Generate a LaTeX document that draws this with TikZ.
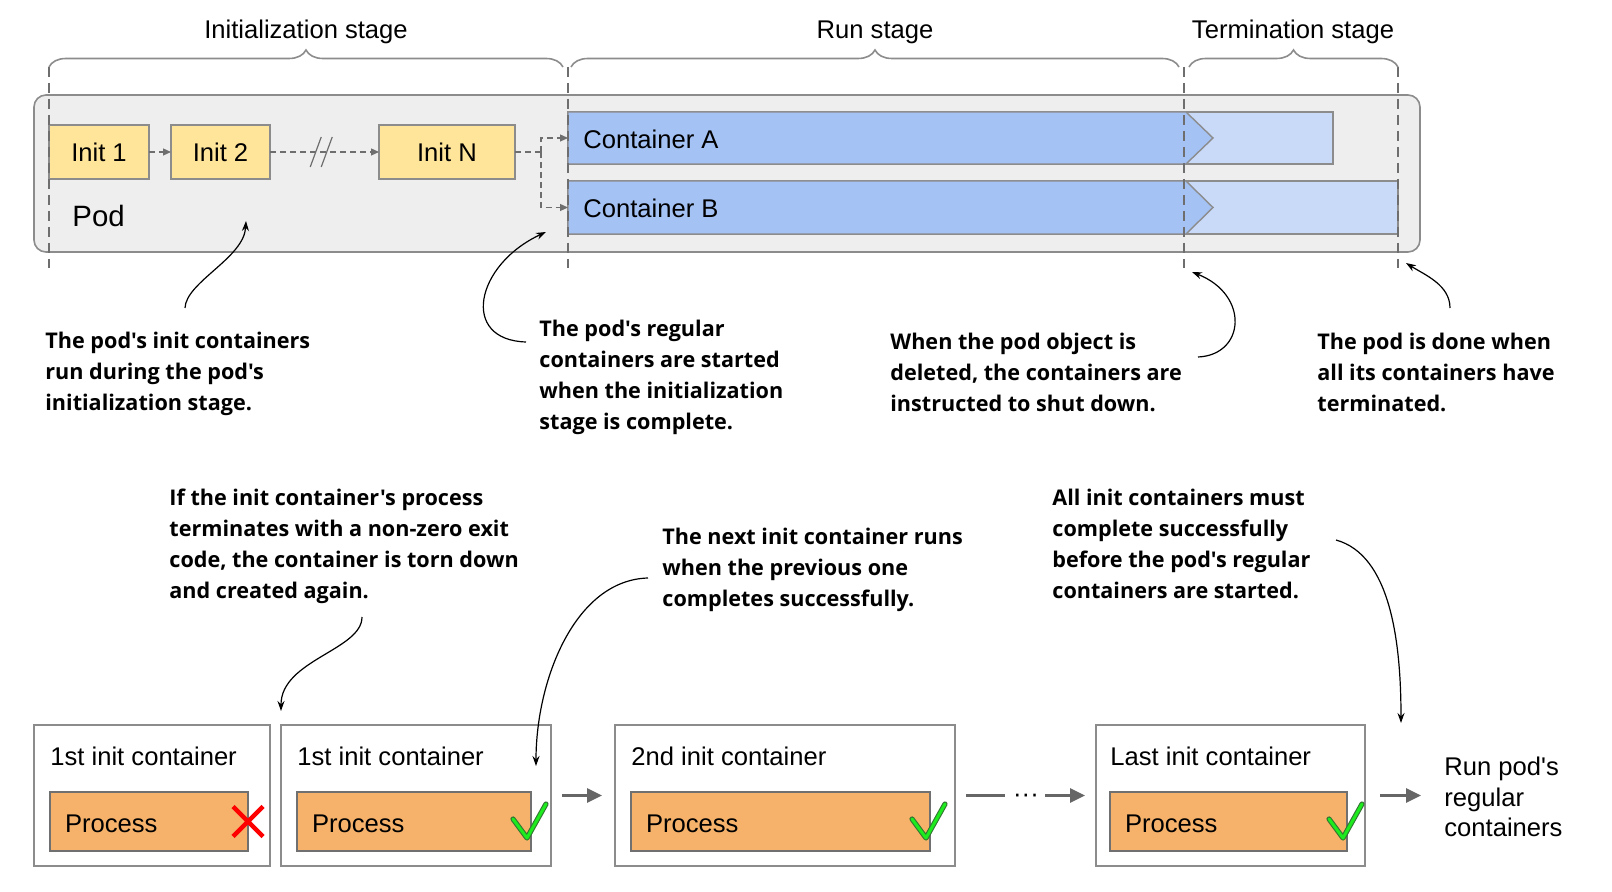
\documentclass[tikz,border=0pt]{standalone}
\usepackage{fontspec}
\setmainfont{Liberation Sans}[Ligatures=TeXOff]
\newfontfamily\notefont{Open Sans}[Ligatures=TeXOff]
\usepackage{tikz}
\usetikzlibrary{positioning,arrows.meta,calc,decorations.pathreplacing}
\definecolor{kLine}{RGB}{140,140,140}
\definecolor{kDash}{RGB}{110,110,110}
\definecolor{kPod}{RGB}{238,238,238}
\definecolor{kInit}{RGB}{255,229,153}
\definecolor{kRun}{RGB}{164,194,244}
\definecolor{kStop}{RGB}{201,218,248}
\definecolor{kProc}{RGB}{246,178,107}
\definecolor{kFlow}{RGB}{102,102,102}
\definecolor{kOk}{RGB}{30,235,30}
\definecolor{kOkLine}{RGB}{50,120,50}
\definecolor{kBad}{RGB}{255,0,0}
\tikzset{
  lbl/.style={font=\fontsize{12.8}{15.4}\selectfont, inner sep=0pt},
  note/.style={font=\notefont\bfseries\fontsize{10.8}{15.4}\selectfont,
               align=left, inner sep=0pt, anchor=north west},
  podbox/.style={rectangle, rounded corners=6pt, draw=kLine, fill=kPod,
                 line width=0.8pt, outer sep=0pt},
  initbox/.style={rectangle, draw=kLine, fill=kInit, line width=0.7pt,
                  minimum height=27pt, inner sep=0pt, outer sep=0pt,
                  font=\fontsize{12.8}{15.4}\selectfont},
  stopbar/.style={rectangle, draw=kLine, fill=kStop, line width=0.7pt,
                  outer sep=0pt},
  runpart/.style={fill=kRun, draw=kLine, line width=0.7pt},
  ctrbox/.style={rectangle, draw=kLine, fill=white, line width=0.8pt,
                 minimum height=70.5pt, outer sep=0pt},
  procbox/.style={rectangle, draw=kLine!80!black, fill=kProc, line width=0.7pt,
                  minimum height=29.5pt, inner xsep=7.5pt, inner ysep=0pt,
                  text height=11.2pt, text depth=0pt,
                  align=left, outer sep=0pt, font=\fontsize{12.8}{15.4}\selectfont},
  hop/.style={-{Triangle[length=4pt,width=3.5pt]}, draw=kDash, line width=0.6pt,
              dash pattern=on 3pt off 2pt},
  hopcut/.style={draw=kDash, line width=0.6pt},
  flow/.style={-{Triangle[length=7.5pt,width=7pt]}, draw=kFlow, line width=1.5pt},
  noteline/.style={-{Stealth[length=5pt,width=3.5pt]}, draw=black, line width=0.6pt},
  stage/.style={decorate, decoration={brace, amplitude=8.5pt}, draw=kLine,
                line width=0.8pt},
  cut/.style={draw=kDash, line width=0.7pt, dash pattern=on 5pt off 3pt},
}
\tikzset{
  okmark/.pic={
    \draw[kOkLine, line width=2.6pt, line cap=round, line join=round]
      (-9pt,1.25pt) -- (-2pt,-8.25pt) -- (7.5pt,8.75pt);
    \draw[kOk, line width=1.5pt, line cap=round, line join=round]
      (-9pt,1.25pt) -- (-2pt,-8.25pt) -- (7.5pt,8.75pt);
  },
  badmark/.pic={
    \draw[kBad, line width=2.2pt] (-7.5pt,7.5pt) -- (7.5pt,-7.5pt)
                                  (-7.5pt,-7.5pt) -- (7.5pt,7.5pt);
  },
}

\begin{document}
\begin{tikzpicture}[x=0.5pt,y=-0.5pt]
  \useasboundingbox (0,0) rectangle (1612,892);

  % --- pod and its init containers ---
  \node[podbox, minimum width=693pt, minimum height=78.5pt] (pod) at (727,173.5) {};
  \node[lbl, font=\fontsize{14.7}{17}\selectfont, anchor=west] (podlbl) at (72,216) {Pod};

  \node[initbox, minimum width=50pt] (init1) at (99,152) {Init 1};
  \node[initbox, minimum width=49.5pt] (init2) at (220.5,152) {Init 2};
  \node[initbox, minimum width=68pt] (initN) at (447,152) {Init N};

  % --- regular containers ---
  \node[stopbar, minimum width=382.5pt, minimum height=26pt] (ctrA) at (950.5,138) {};
  \node[stopbar, minimum width=415pt, minimum height=26.5pt] (ctrB) at (983,207.5) {};
  \filldraw[runpart] (ctrA.north west) -- ++(618,0) -- ++(27,26) -- ++(-27,26)
    -- (ctrA.south west) -- cycle;
  \filldraw[runpart] (ctrB.north west) -- ++(618,0) -- ++(27,26.5) -- ++(-27,26.5)
    -- (ctrB.south west) -- cycle;
  \node[lbl, anchor=west] (ctrAtxt) at ([xshift=7.5pt,yshift=-0.5pt]ctrA.west) {Container A};
  \node[lbl, anchor=west] (ctrBtxt) at ([xshift=7.5pt,yshift=-0.5pt]ctrB.west) {Container B};

  % --- init chain ---
  \draw[hop] (init1) -- (init2);
  \draw[hop] (init2) -- node[inner sep=0pt, pos=0.47] (gap) {} (initN);
  \draw[hopcut] ([shift={(-5.5pt,-7.5pt)}]gap.center) -- ++(5.5pt,15pt)
                ([shift={(0pt,-7.5pt)}]gap.center) -- ++(5.5pt,15pt);
  \coordinate (fork) at ([xshift=13pt]initN.east);
  \draw[hop, -] (initN.east) -- (fork);
  \draw[hop] (fork) |- (ctrA.west);
  \draw[hop] (fork) |- (ctrB.west);

  % --- stage boundaries ---
  \foreach \cx in {49,568,1184,1398}
    \draw[cut] (\cx,67) -- (\cx,268);
  \draw[stage] (49,67) -- (563,67);
  \draw[stage] (571,67) -- (1179,67);
  \draw[stage] (1189,67) -- (1398,67);
  \node[lbl] (initstage) at (306,32) {Initialization stage};
  \node[lbl] (runstage) at (875,32) {Run stage};
  \node[lbl] (endstage) at (1293,32) {Termination stage};

  % --- notes on the pod ---
  \node[note] (note1) at (45,332) {The pod's init containers\\run during the pod's\\initialization stage.};
  \node[note] (note2) at (539,320) {The pod's regular\\containers are started\\when the initialization\\stage is complete.};
  \node[note] (note3) at (890,333) {When the pod object is\\deleted, the containers are\\instructed to shut down.};
  \node[note] (note4) at (1317,333) {The pod is done when\\all its containers have\\terminated.};

  \coordinate (t1) at (246,221);
  \coordinate (t2) at (546,232);
  \coordinate (t3) at (1192,272);
  \coordinate (t4) at (1406,263);
  \draw[noteline] ([shift={(70pt,12pt)}]note1.north west) .. controls (186,282) and (244,258) .. (t1);
  \draw[noteline] ([shift={(-6.5pt,-11pt)}]note2.north west) .. controls (460,340) and (475,265) .. (t2);
  \draw[noteline] ([shift={(154pt,-12pt)}]note3.north west) .. controls (1245,355) and (1250,295) .. (t3);
  \draw[noteline] ([shift={(66.5pt,12.5pt)}]note4.north west) .. controls (1450,285) and (1425,275) .. (t4);

  % --- init container sequence ---
  \node[ctrbox, minimum width=118pt] (box1) at (152,795.5) {};
  \node[ctrbox, minimum width=135pt] (box2) at (416,795.5) {};
  \node[ctrbox, minimum width=170pt] (box3) at (785,795.5) {};
  \node[ctrbox, minimum width=134.5pt] (box4) at (1230.5,795.5) {};

  \node[lbl, anchor=west] (ttl1) at ([xshift=8pt,yshift=-15.5pt]box1.north west) {1st init container};
  \node[lbl, anchor=west] (ttl2) at ([xshift=8pt,yshift=-15.5pt]box2.north west) {1st init container};
  \node[lbl, anchor=west] (ttl3) at ([xshift=8pt,yshift=-15.5pt]box3.north west) {2nd init container};
  \node[lbl, anchor=west] (ttl4) at ([xshift=7pt,yshift=-15.5pt]box4.north west) {Last init container};

  \node[procbox, text width=84pt] (proc1) at (149,821.5) {Process};
  \node[procbox, text width=102pt] (proc2) at (414,821.5) {Process};
  \node[procbox, text width=134.5pt] (proc3) at (780.5,821.5) {Process};
  \node[procbox, text width=103.5pt] (proc4) at (1228.5,821.5) {Process};

  \pic at (proc1.east) {badmark};
  \pic at (proc2.east) {okmark};
  \pic at (proc3.east) {okmark};
  \pic at (proc4.east) {okmark};

  \node[lbl, inner xsep=3pt] (dots) at (1026,798) {···};
  \node[lbl, align=left, anchor=west] (run) at (1444,797) {Run pod's\\regular\\containers};

  \draw[flow, shorten <=5.5pt, shorten >=6.5pt] (box2) -- (box3);
  \draw[kFlow, line width=1.5pt, shorten <=5.5pt, shorten >=1pt] (box3.east) -- (box3.east -| dots.west);
  \draw[flow, shorten >=5.5pt] (box3.east -| dots.east) -- (box4.west);
  \draw[flow, shorten <=7.5pt, shorten >=11.5pt] (box4.east) -- (box4.east -| run.west);

  % --- notes on the sequence ---
  \node[note] (note5) at (169,489) {If the init container's process\\terminates with a non-zero exit\\code, the container is torn down\\and created again.};
  \node[note] (note6) at (662,528) {The next init container runs\\when the previous one\\completes successfully.};
  \node[note] (note7) at (1052,489) {All init containers must\\complete successfully\\before the pod's regular\\containers are started.};

  \coordinate (t5) at (281,711);
  \coordinate (t6) at (536,766);
  \coordinate (t7) at (1401,723);
  \draw[noteline] ([shift={(96.5pt,-64pt)}]note5.north west) .. controls (362,650) and (281,660) .. (t5);
  \draw[noteline] ([shift={(-7pt,-25pt)}]note6.north west) .. controls (575,580) and (536,680) .. (t6);
  \draw[noteline] ([shift={(142pt,-25.5pt)}]note7.north west) .. controls (1390,555) and (1401,640) .. (t7);
\end{tikzpicture}
\end{document}
